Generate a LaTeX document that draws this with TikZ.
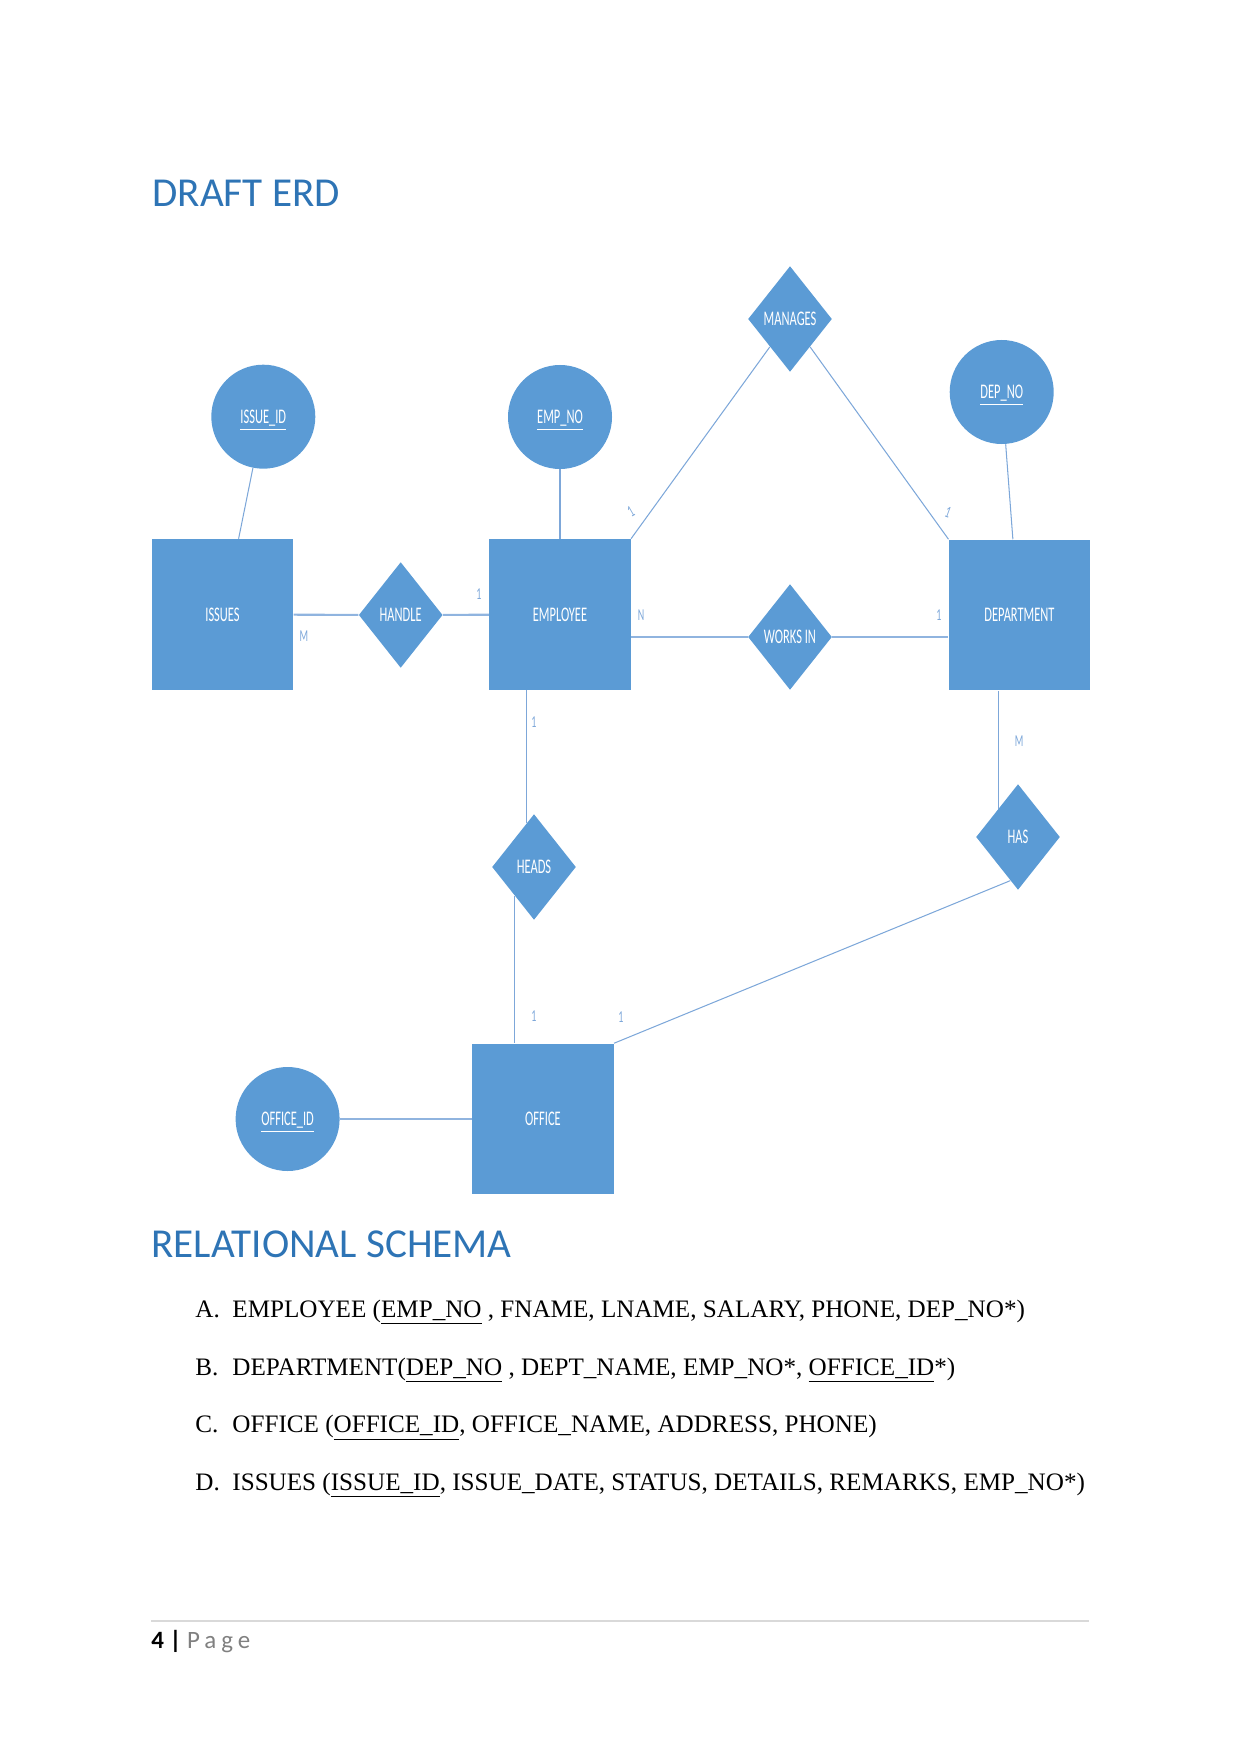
\documentclass[tikz,border=0pt]{standalone}
\usepackage{fontspec}
\setmainfont{Liberation Serif}
\newfontfamily\headfont{Carlito}
\newfontfamily\erdfont[FakeStretch=0.6]{Carlito}
\usetikzlibrary{shapes.geometric}

\definecolor{erdblue}{HTML}{5B9BD5}
\definecolor{linkblue}{HTML}{7DA7D9}
\definecolor{headblue}{HTML}{2E74B5}
\definecolor{rulegray}{HTML}{D9D9D9}

\begin{document}
\begin{tikzpicture}[x=0.16922mm, y=-0.16922mm]
  % Styles
  \tikzset{
    entity/.style={fill=erdblue, minimum width=23.9mm, minimum height=25.5mm, inner sep=0pt,
      text=white, font=\erdfont\fontsize{10}{12}\selectfont},
    attr/.style={circle, fill=erdblue, minimum size=17.6mm, inner sep=0pt, text depth=0pt,
      text=white, font=\erdfont\fontsize{10}{12}\selectfont},
    rel/.style={diamond, fill=erdblue, minimum width=14.2mm, minimum height=17.9mm, inner sep=0pt,
      text=white, font=\erdfont\fontsize{10}{12}\selectfont},
    link/.style={draw=linkblue, line width=0.5pt},
    widelink/.style={draw=linkblue!85, line width=1pt},
    card/.style={text=linkblue, inner sep=0pt, font=\erdfont\fontsize{8}{9}\selectfont},
    heading/.style={anchor=base west, inner sep=0pt, text=headblue,
      font=\headfont\fontsize{19.8}{23}\selectfont},
    schema/.style={anchor=base west, inner sep=0pt, font=\fontsize{12.1}{14}\selectfont},
  }

  % Page
  \useasboundingbox (0,0) rectangle (1241,1754);

  % Titres
  \node[heading] (erdtitle) at (152,207) {DRAFT ERD};
  \node[heading] (schematitle) at (151,1257) {RELATIONAL SCHEMA};

  % Entites
  \node[entity] (issues) at (222.5,614.5) {ISSUES};
  \node[entity] (emp) at (560,614.5) {EMPLOYEE};
  \node[entity] (dept) at (1019.5,615) {DEPARTMENT};
  \node[entity] (office) at (543,1119) {OFFICE};

  % Attributs
  \node[attr] (issueid) at (263.3,416.7) {\underline{ISSUE\_ID}};
  \node[attr] (empno) at (560,417) {\underline{EMP\_NO}};
  \node[attr] (depno) at (1001.7,392) {\underline{DEP\_NO}};
  \node[attr] (officeid) at (287.6,1119) {\underline{OFFICE\_ID}};

  % Relations
  \node[rel] (handle) at (400.7,615) {HANDLE};
  \node[rel] (manages) at (790,319) {MANAGES};
  \node[rel] (works) at (790,637) {WORKS IN};
  \node[rel] (heads) at (534,867) {HEADS};
  \node[rel] (has) at (1018,837) {HAS};

  % Liens
  \draw[link] (issueid) -- (issues.78);
  \draw[link] (empno) -- (emp);
  \draw[link] (depno) -- (dept.95);
  \draw[widelink] (officeid) -- (office);
  \draw[widelink] (issues) -- (handle);
  \draw[widelink] (handle) -- (emp);
  \draw[widelink] (works.west) -- (works.west -| emp.east);
  \draw[widelink] (works.east) -- (works.east -| dept.west);
  \draw[link] (emp.north east) -- (manages);
  \draw[link] (dept.north west) -- (manages);
  \draw[link] (heads.100) -- (heads.100 |- emp.south);
  \draw[link] (heads.237) -- (heads.237 |- office.north);
  \draw[link] (has.125) -- (has.125 |- dept.south);
  \draw[link] (has.260) -- (office.north east);

  % Cardinalites
  \node[card] (cissues) at (304,636) {M};
  \node[card] (chandle) at (479,594) {1};
  \node[card, rotate=30] (cmanemp) at (631,512) {1};
  \node[card, rotate=-20] (cmandep) at (948,512) {1};
  \node[card] (cworkemp) at (641,615) {N};
  \node[card] (cworkdep) at (939,615) {1};
  \node[card] (cheademp) at (534,722) {1};
  \node[card] (chasdep) at (1019,741) {M};
  \node[card] (cheadoff) at (534,1016) {1};
  \node[card] (chasoff) at (621,1017) {1};

  % Schema
  \foreach \lab/\body [count=\i] in {
    A/{EMPLOYEE (\underline{EMP\_NO} , FNAME, LNAME, SALARY, PHONE, DEP\_NO*)},
    B/{DEPARTMENT(\underline{DEP\_NO} , DEPT\_NAME, EMP\_NO*, \underline{OFFICE\_ID}*)},
    C/{OFFICE (\underline{OFFICE\_ID}, OFFICE\_NAME, ADDRESS, PHONE)},
    D/{ISSUES (\underline{ISSUE\_ID}, ISSUE\_DATE, STATUS, DETAILS, REMARKS, EMP\_NO*)}
  }{
    \node[schema] (lab\i) at (195,1260+57.6*\i) {\lab.};
    \node[schema] (row\i) at (232,1260+57.6*\i) {\body};
  }

  % Pied de page
  \draw[rulegray, line width=0.6pt] (151,1621) -- (1089,1621);
  \node[anchor=base west, inner sep=0pt, font=\headfont\fontsize{12}{14}\selectfont] (pagenum) at (151,1648)
    {\textbf{4 |} {\color{gray}\addfontfeature{LetterSpace=20}Page}};

\end{tikzpicture}
\end{document}
